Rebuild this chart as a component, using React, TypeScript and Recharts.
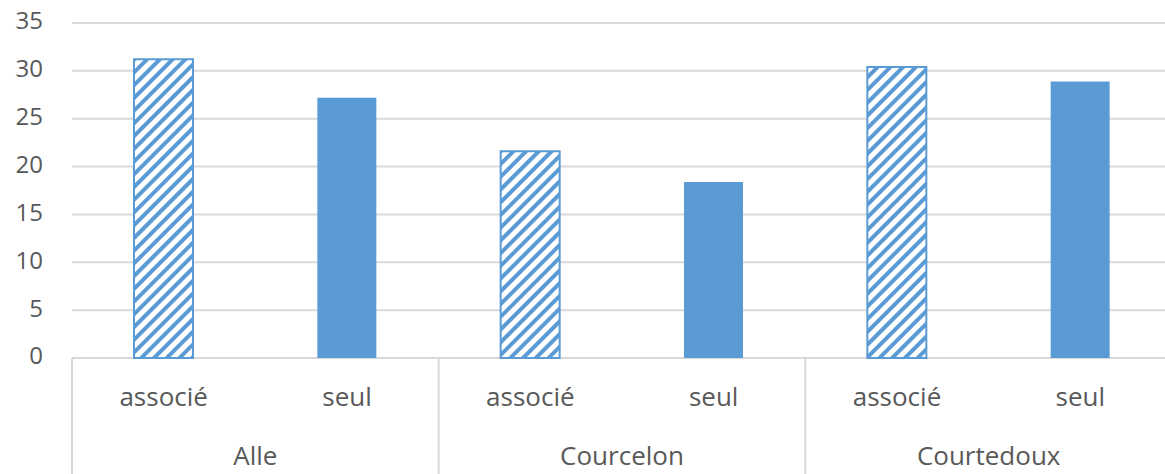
import React from 'react';
import { BarChart, Bar, XAxis, YAxis, CartesianGrid, Cell } from 'recharts';

const groups = ['Alle', 'Alle', 'Courcelon', 'Courcelon', 'Courtedoux', 'Courtedoux'];
const kinds = ['associé', 'seul', 'associé', 'seul', 'associé', 'seul'];
const values = [31.2, 27.2, 21.6, 18.4, 30.4, 28.9];
const yTicks = [0, 5, 10, 15, 20, 25, 30, 35];

const data = values.map((v, i) => ({ key: i, kind: kinds[i], group: groups[i], value: v }));

const W = 1165;
const H = 474;
const LEFT = 72;
const RIGHT = -7;
const TOP = 23;
const AXIS_H = 58;
const PLOT_BOTTOM = H - AXIS_H * 2;
const GROUP_W = (W - LEFT - RIGHT) / 3;

const BLUE = '#5B9BD5';
const TEXT = '#595959';
const LINE = '#D9D9D9';
const FONT = '"Open Sans", sans-serif';

const KindTick = (props: any) => {
  const { x, payload } = props;
  return (
    <text x={x} y={PLOT_BOTTOM + 41} textAnchor="middle" dominantBaseline="middle"
      fontFamily={FONT} fontSize={26} fill={TEXT}>
      {kinds[payload.value]}
    </text>
  );
};

const GroupTick = (props: any) => {
  const { x, payload, index } = props;
  const left = x - GROUP_W / 2;
  return (
    <g>
      <line x1={left} x2={left} y1={PLOT_BOTTOM} y2={H} stroke={LINE} strokeWidth={2} />
      {index === 2 && (
        <line x1={left + GROUP_W} x2={left + GROUP_W} y1={PLOT_BOTTOM} y2={H} stroke={LINE} strokeWidth={2} />
      )}
      <text x={x} y={PLOT_BOTTOM + 100} textAnchor="middle" dominantBaseline="middle"
        fontFamily={FONT} fontSize={26} fill={TEXT}>
        {payload.value}
      </text>
    </g>
  );
};

const YTick = (props: any) => {
  const { y, payload } = props;
  return (
    <text x={LEFT - 29} y={y} textAnchor="end" dominantBaseline="middle"
      fontFamily={FONT} fontSize={24} fill={TEXT}>
      {payload.value}
    </text>
  );
};

export default function App() {
  return (
    <div style={{ position: 'absolute', left: 0, top: 0, width: W, height: H, background: '#fff' }}>
      <BarChart width={W} height={H} data={data} margin={{ top: TOP, right: RIGHT, left: 0, bottom: 0 }}>
        <defs>
          <pattern id="hatch" width="9" height="9" patternUnits="userSpaceOnUse" patternTransform="rotate(45)">
            <rect x="0" y="0" width="9" height="9" fill="#fff" />
            <rect x="0" y="0" width="4" height="9" fill={BLUE} />
          </pattern>
        </defs>
        <CartesianGrid vertical={false} stroke={LINE} strokeWidth={2} />
        <YAxis domain={[0, 35]} ticks={yTicks} width={LEFT} axisLine={false} tickLine={false}
          tick={<YTick />} interval={0} />
        <XAxis xAxisId="kind" dataKey="key" height={AXIS_H} axisLine={false}
          tickLine={false} interval={0} tick={<KindTick />} />
        <XAxis xAxisId="group" dataKey="group" allowDuplicatedCategory={false} height={AXIS_H}
          axisLine={false} tickLine={false} interval={0} tick={<GroupTick />} />
        <Bar xAxisId="kind" dataKey="value" barSize={59} isAnimationActive={false}>
          {data.map((d, i) => (
            d.kind === 'associé'
              ? <Cell key={i} fill="url(#hatch)" stroke={BLUE} strokeWidth={2} />
              : <Cell key={i} fill={BLUE} />
          ))}
        </Bar>
      </BarChart>
    </div>
  );
}
